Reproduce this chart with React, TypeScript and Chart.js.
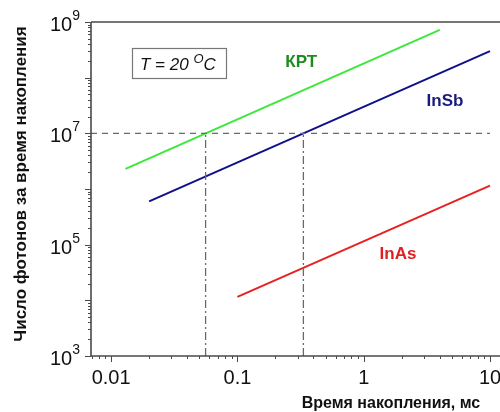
import React, { useEffect, useRef } from "react";
import { Chart, registerables } from "chart.js";

Chart.register(...registerables);

// ---- data ----
const krtTime = [0.013, 4];
const krtPhotons = [2.3e6, 7.2e8];
const insbTime = [0.02, 10];
const insbPhotons = [6e5, 3e8];
const inasTime = [0.1, 10];
const inasPhotons = [1.15e4, 1.15e6];

const thresholdLevel = 1e7;
const thresholdTimes = [0.056, 0.333];

const xMin = 0.00693;
const xMax = 12;
const yMin = 1e3;
const yMax = 1e9;

const xTickValues = [0.01, 0.1, 1, 10];
const xTickLabels = ["0.01", "0.1", "1", "10"];
const yTickExponents = [3, 5, 7, 9];

const seriesNames = ["КРТ", "InSb", "InAs"];
const labelTimes = [0.32, 4.4, 1.87];
const labelPhotons = [1.9e8, 3.8e7, 6.8e4];

const FONT = "'Liberation Sans', Arial, sans-serif";

const pts = (xs: number[], ys: number[]) => xs.map((x, i) => ({ x, y: ys[i] }));

const drawPlugin = {
  id: "customDraw",
  afterDraw(chart: any) {
    const ctx = chart.ctx as CanvasRenderingContext2D;
    const xs = chart.scales.x;
    const ys = chart.scales.y;
    const { left, right, top, bottom } = chart.chartArea;
    ctx.save();

    // axes frame
    ctx.strokeStyle = "#4a4a4a";
    ctx.lineWidth = 1.6;
    ctx.beginPath();
    ctx.moveTo(left, top);
    ctx.lineTo(right, top);
    ctx.moveTo(left, top);
    ctx.lineTo(left, bottom);
    ctx.lineTo(right, bottom);
    ctx.stroke();

    // ticks
    ctx.lineWidth = 1;
    ctx.strokeStyle = "#4a4a4a";
    ctx.beginPath();
    for (let d = 3; d <= 9; d++) {
      for (let k = 1; k <= 9; k++) {
        const v = k * Math.pow(10, d);
        if (v < yMin * 0.999 || v > yMax * 1.001) continue;
        const py = Math.round(ys.getPixelForValue(v)) + 0.5;
        const len = k === 1 ? 6 : 3;
        ctx.moveTo(left, py);
        ctx.lineTo(left - len, py);
      }
    }
    for (let d = -3; d <= 1; d++) {
      for (let k = 1; k <= 9; k++) {
        const v = k * Math.pow(10, d);
        if (v < xMin || v > xMax) continue;
        const px = Math.round(xs.getPixelForValue(v)) + 0.5;
        const len = k === 1 ? 6 : 3;
        ctx.moveTo(px, bottom);
        ctx.lineTo(px, bottom + len);
      }
    }
    ctx.stroke();

    // x tick labels
    ctx.fillStyle = "#111";
    ctx.font = `20px ${FONT}`;
    ctx.textAlign = "center";
    ctx.textBaseline = "alphabetic";
    xTickValues.forEach((v, i) => {
      ctx.fillText(xTickLabels[i], xs.getPixelForValue(v), bottom + 28);
    });

    // y tick labels with superscripts
    yTickExponents.forEach((e) => {
      const py = ys.getPixelForValue(Math.pow(10, e));
      ctx.font = `20px ${FONT}`;
      const w10 = ctx.measureText("10").width;
      ctx.font = `14px ${FONT}`;
      const wE = ctx.measureText(String(e)).width;
      const rightEdge = left - 11;
      const x0 = rightEdge - wE - w10;
      ctx.textAlign = "left";
      ctx.font = `20px ${FONT}`;
      ctx.fillText("10", x0, py + 9);
      ctx.font = `14px ${FONT}`;
      ctx.fillText(String(e), x0 + w10, py - 2);
    });

    // axis titles
    ctx.font = `bold 16px ${FONT}`;
    ctx.textAlign = "center";
    ctx.textBaseline = "middle";
    ctx.fillText("Время накопления, мс", 391, 404);
    ctx.save();
    ctx.translate(21, 184);
    ctx.rotate(-Math.PI / 2);
    ctx.font = `bold 17px ${FONT}`;
    ctx.fillText("Число фотонов за время накопления", 0, 0);
    ctx.restore();

    // series labels
    const labelColors = ["#1f8a1f", "#1a1a80", "#e02020"];
    ctx.font = `bold 17px ${FONT}`;
    seriesNames.forEach((n, i) => {
      ctx.fillStyle = labelColors[i];
      ctx.fillText(n, xs.getPixelForValue(labelTimes[i]), ys.getPixelForValue(labelPhotons[i]));
    });

    // temperature box
    ctx.strokeStyle = "#777";
    ctx.lineWidth = 1.2;
    ctx.strokeRect(132.5, 48.5, 94, 30);
    ctx.fillStyle = "#111";
    ctx.textAlign = "left";
    ctx.textBaseline = "alphabetic";
    ctx.font = `italic 17px ${FONT}`;
    const t1 = "T = 20 ";
    ctx.fillText(t1, 140, 70);
    let cx = 140 + ctx.measureText(t1).width;
    ctx.font = `italic 13px ${FONT}`;
    ctx.fillText("O", cx, 63);
    cx += ctx.measureText("O").width;
    ctx.font = `italic 17px ${FONT}`;
    ctx.fillText("C", cx, 70);

    ctx.restore();
  },
};

export default function App() {
  const ref = useRef<HTMLCanvasElement>(null);
  useEffect(() => {
    if (!ref.current) return;
    const chart = new Chart(ref.current, {
      type: "scatter",
      data: {
        datasets: [
          {
            data: [{ x: xMin, y: thresholdLevel }, { x: 10, y: thresholdLevel }],
            showLine: true,
            borderColor: "#6a6a6a",
            borderWidth: 1.3,
            borderDash: [6, 5],
            pointRadius: 0,
          },
          ...thresholdTimes.map((t) => ({
            data: [{ x: t, y: yMin }, { x: t, y: thresholdLevel }],
            showLine: true,
            borderColor: "#6a6a6a",
            borderWidth: 1.3,
            borderDash: [8, 3, 2, 3],
            pointRadius: 0,
          })),
          {
            label: "КРТ",
            data: pts(krtTime, krtPhotons),
            showLine: true,
            borderColor: "#3ce83c",
            borderWidth: 2,
            pointRadius: 0,
          },
          {
            label: "InSb",
            data: pts(insbTime, insbPhotons),
            showLine: true,
            borderColor: "#10108a",
            borderWidth: 2,
            pointRadius: 0,
          },
          {
            label: "InAs",
            data: pts(inasTime, inasPhotons),
            showLine: true,
            borderColor: "#e82020",
            borderWidth: 2,
            pointRadius: 0,
          },
        ],
      },
      options: {
        animation: false,
        responsive: false,
        maintainAspectRatio: false,
        layout: { padding: { top: 22, right: 0, left: 0, bottom: 0 } },
        plugins: { legend: { display: false }, tooltip: { enabled: false } },
        scales: {
          x: {
            type: "logarithmic",
            min: xMin,
            max: xMax,
            grid: { display: false },
            border: { display: false },
            ticks: { display: false },
            afterFit: (s: any) => {
              s.height = 56;
            },
          },
          y: {
            type: "logarithmic",
            min: yMin,
            max: yMax,
            grid: { display: false },
            border: { display: false },
            ticks: { display: false },
            afterFit: (s: any) => {
              s.width = 91;
            },
          },
        },
      },
      plugins: [drawPlugin],
    } as any);
    return () => chart.destroy();
  }, []);
  return (
    <div style={{ position: "absolute", left: 0, top: 0, width: 500, height: 412, background: "#fff" }}>
      <canvas ref={ref} width={500} height={412} style={{ display: "block" }} />
    </div>
  );
}
